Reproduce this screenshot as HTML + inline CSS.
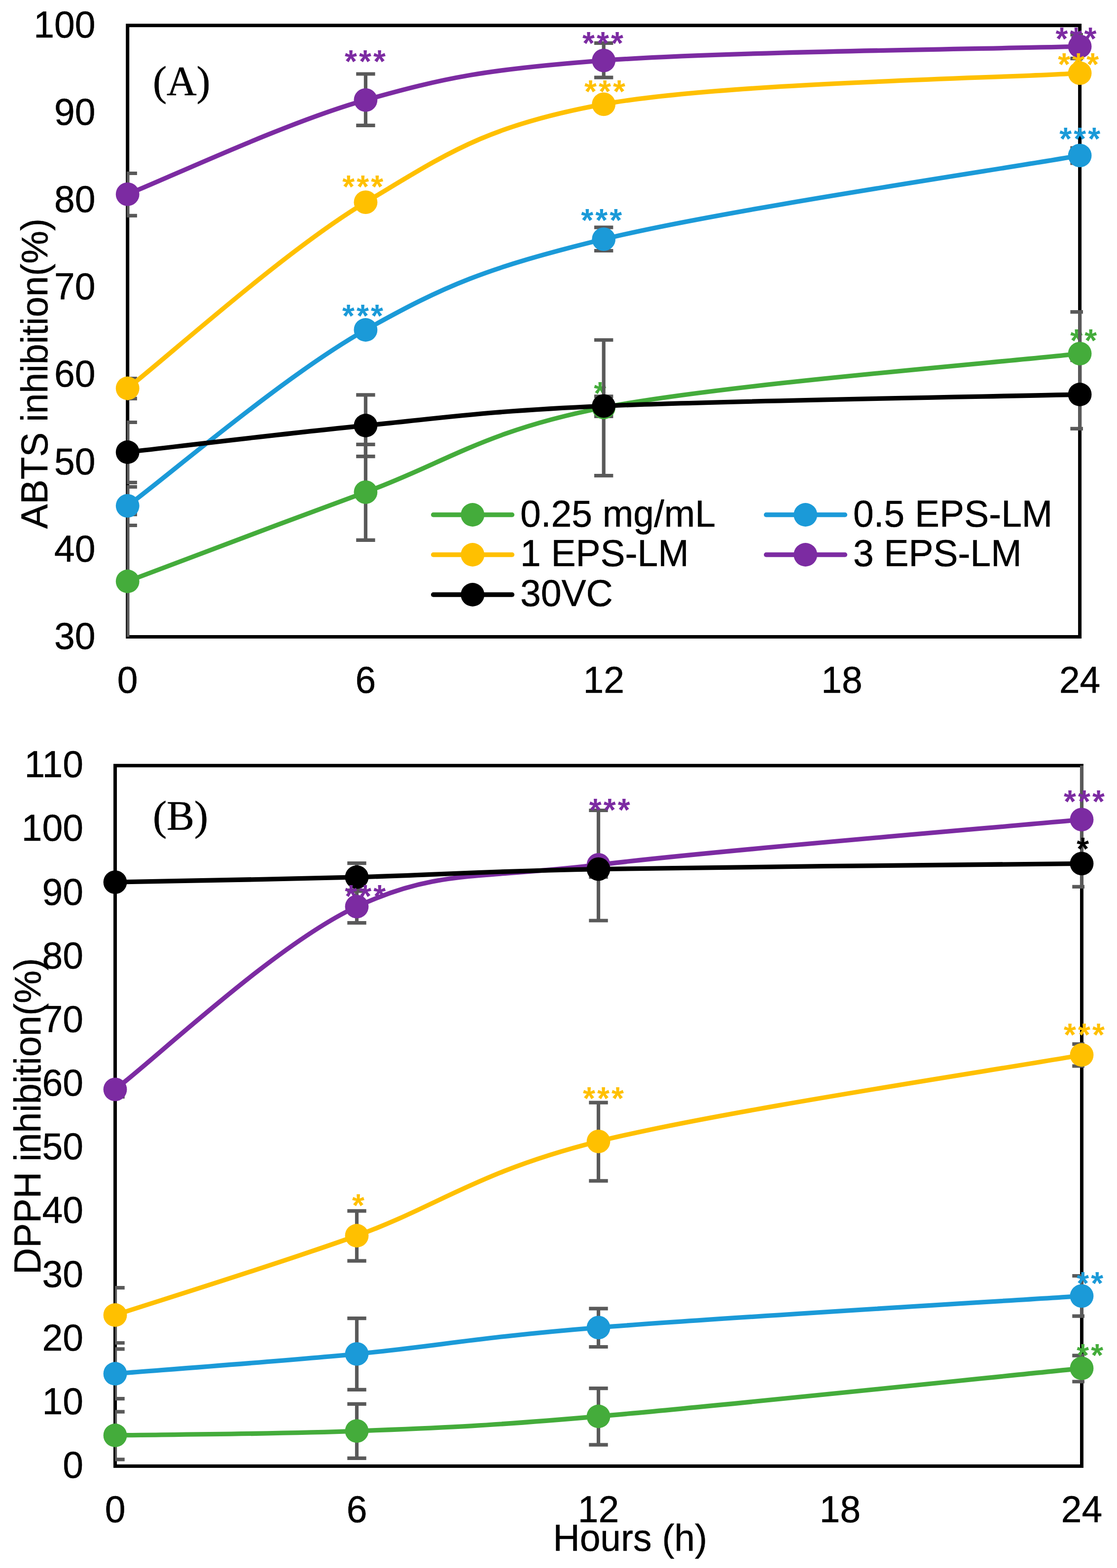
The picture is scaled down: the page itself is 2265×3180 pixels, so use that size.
<!DOCTYPE html>
<html lang="en"><head><meta charset="utf-8"><title>ABTS and DPPH inhibition</title>
<style>
html,body{margin:0;padding:0;background:#fff;}
body{width:2265px;height:3180px;overflow:hidden;}
svg{display:block;}
text{font-family:"Liberation Sans", Arial, Helvetica, sans-serif;font-size:75px;fill:#000;stroke:#000;stroke-width:0.5;stroke-linejoin:round;}
.plot{fill:none;stroke:#000;stroke-width:7;}
.yt text{text-anchor:end;}
.xt text{text-anchor:middle;}
text.st{font-size:64px;font-weight:bold;letter-spacing:4.1px;stroke:none;}
.eb{fill:none;stroke:#595959;stroke-width:7.2;}
.ln{fill:none;stroke-width:9.3;stroke-linecap:round;stroke-linejoin:round;}
text.lab{font-family:"Liberation Serif", "Times New Roman", Times, serif;font-size:84px;stroke-width:0.6;}
.leg line{stroke-width:9.3;stroke-linecap:round;}
</style></head><body>
<svg width="2265" height="3180" viewBox="0 0 2265 3180">
<rect width="2265" height="3180" fill="#fff"/>
<g id="chartA">
<clipPath id="clipA"><rect x="257.1" y="51.6" width="1938.9" height="1239.9"/></clipPath>
<rect class="plot" x="258.7" y="51.6" width="1930.9" height="1239.9"/>
<g class="yt">
<text transform="translate(193.5,75.9) scale(1,1.02)">100</text>
<text transform="translate(193.5,253.03) scale(1,1.02)">90</text>
<text transform="translate(193.5,430.16) scale(1,1.02)">80</text>
<text transform="translate(193.5,607.29) scale(1,1.02)">70</text>
<text transform="translate(193.5,784.41) scale(1,1.02)">60</text>
<text transform="translate(193.5,961.54) scale(1,1.02)">50</text>
<text transform="translate(193.5,1138.67) scale(1,1.02)">40</text>
<text transform="translate(193.5,1315.8) scale(1,1.02)">30</text>
</g>
<g class="xt">
<text transform="translate(258.7,1405) scale(1,1.02)">0</text>
<text transform="translate(741.42,1405) scale(1,1.02)">6</text>
<text transform="translate(1224.15,1405) scale(1,1.02)">12</text>
<text transform="translate(1706.88,1405) scale(1,1.02)">18</text>
<text transform="translate(2189.6,1405) scale(1,1.02)">24</text>
</g>
<g class="stars">
<text class="st" x="1204.2" y="820.1" style="fill:#44AC3B">*</text>
<text class="st" x="2170.3" y="713.2" style="fill:#44AC3B">**</text>
</g>
<g class="errorbars" clip-path="url(#clipA)">
<path class="eb" d="M258.7,1043.3 V1315 M239.5,1043.3 H277.9 M239.5,1315 H277.9 M741.42,901.3 V1095.4 M722.22,901.3 H760.62 M722.22,1095.4 H760.62 M1224.15,689.5 V964.7 M1204.95,689.5 H1243.35 M1204.95,964.7 H1243.35 M2189.6,632.6 V801.6 M2170.4,632.6 H2208.8 M2170.4,801.6 H2208.8"/>
<path class="eb" d="M258.7,987.3 V1065.5 M239.5,987.3 H277.9 M239.5,1065.5 H277.9 M1224.15,461.2 V508.5 M1204.95,461.2 H1243.35 M1204.95,508.5 H1243.35 M2189.6,300 V331 M2170.4,300 H2208.8 M2170.4,331 H2208.8"/>
<path class="eb" d="M258.7,767.5 V808.4 M239.5,767.5 H277.9 M239.5,808.4 H277.9"/>
<path class="eb" d="M258.7,351.5 V437.4 M239.5,351.5 H277.9 M239.5,437.4 H277.9 M741.42,150 V254.4 M722.22,150 H760.62 M722.22,254.4 H760.62 M1224.15,87.3 V157.1 M1204.95,87.3 H1243.35 M1204.95,157.1 H1243.35 M2189.6,70.5 V118.7 M2170.4,70.5 H2208.8 M2170.4,118.7 H2208.8"/>
<path class="eb" d="M258.7,856.5 V978.5 M239.5,856.5 H277.9 M239.5,978.5 H277.9 M741.42,800.8 V925.6 M722.22,800.8 H760.62 M722.22,925.6 H760.62 M1224.15,803.9 V844.3 M1204.95,803.9 H1243.35 M1204.95,844.3 H1243.35 M2189.6,730.7 V869.3 M2170.4,730.7 H2208.8 M2170.4,869.3 H2208.8"/>
</g>
<g class="series s-green">
<path class="ln" stroke="#44AC3B" d="M258.7,1179 C339.15,1148.85 580.52,1056.85 741.42,998.1 C902.33,939.35 982.79,873.33 1224.15,826.5 C1465.51,779.67 2028.69,735.33 2189.6,717.1"/>
<circle cx="258.7" cy="1179" r="23.9" fill="#44AC3B"/>
<circle cx="741.42" cy="998.1" r="23.9" fill="#44AC3B"/>
<circle cx="1224.15" cy="826.5" r="23.9" fill="#44AC3B"/>
<circle cx="2189.6" cy="717.1" r="23.9" fill="#44AC3B"/>
</g>
<g class="series s-blue">
<path class="ln" stroke="#1B9AD8" d="M258.7,1025.8 C339.15,966.33 580.52,759.12 741.42,669 C902.33,578.88 982.79,544.03 1224.15,485.1 C1465.51,426.17 2028.69,343.68 2189.6,315.4"/>
<circle cx="258.7" cy="1025.8" r="23.9" fill="#1B9AD8"/>
<circle cx="741.42" cy="669" r="23.9" fill="#1B9AD8"/>
<circle cx="1224.15" cy="485.1" r="23.9" fill="#1B9AD8"/>
<circle cx="2189.6" cy="315.4" r="23.9" fill="#1B9AD8"/>
</g>
<g class="series s-yellow">
<path class="ln" stroke="#FFC000" d="M258.7,787.5 C339.15,724.62 580.52,506.23 741.42,410.2 C902.33,314.17 982.79,254.95 1224.15,211.3 C1465.51,167.65 2028.69,158.8 2189.6,148.3"/>
<circle cx="258.7" cy="787.5" r="23.9" fill="#FFC000"/>
<circle cx="741.42" cy="410.2" r="23.9" fill="#FFC000"/>
<circle cx="1224.15" cy="211.3" r="23.9" fill="#FFC000"/>
<circle cx="2189.6" cy="148.3" r="23.9" fill="#FFC000"/>
</g>
<g class="series s-purple">
<path class="ln" stroke="#7C2BA2" d="M258.7,393.9 C339.15,362.05 580.52,248.02 741.42,202.8 C902.33,157.58 982.79,140.7 1224.15,122.6 C1465.51,104.5 2028.69,98.93 2189.6,94.2"/>
<circle cx="258.7" cy="393.9" r="23.9" fill="#7C2BA2"/>
<circle cx="741.42" cy="202.8" r="23.9" fill="#7C2BA2"/>
<circle cx="1224.15" cy="122.6" r="23.9" fill="#7C2BA2"/>
<circle cx="2189.6" cy="94.2" r="23.9" fill="#7C2BA2"/>
</g>
<g class="series s-black">
<path class="ln" stroke="#000000" d="M258.7,917 C339.15,908 580.52,878.62 741.42,863 C902.33,847.38 982.79,833.8 1224.15,823.3 C1465.51,812.8 2028.69,803.88 2189.6,800"/>
<circle cx="258.7" cy="917" r="23.9" fill="#000000"/>
<circle cx="741.42" cy="863" r="23.9" fill="#000000"/>
<circle cx="1224.15" cy="823.3" r="23.9" fill="#000000"/>
<circle cx="2189.6" cy="800" r="23.9" fill="#000000"/>
</g>
<g class="stars">
<text class="st" x="699.1" y="147.1" style="fill:#7C2BA2">***</text>
<text class="st" x="1181.1" y="110.1" style="fill:#7C2BA2">***</text>
<text class="st" x="2140.5" y="101" style="fill:#7C2BA2">***</text>
<text class="st" x="694.3" y="401.2" style="fill:#FFC000">***</text>
<text class="st" x="1185.1" y="208.2" style="fill:#FFC000">***</text>
<text class="st" x="2145.2" y="153" style="fill:#FFC000">***</text>
<text class="st" x="694" y="663" style="fill:#1B9AD8">***</text>
<text class="st" x="1178.2" y="469.2" style="fill:#1B9AD8">***</text>
<text class="st" x="2148.3" y="303.8" style="fill:#1B9AD8">***</text>
</g>
</g>
<text class="lab" transform="translate(310,193) scale(1,1.02)">(A)</text>
<text transform="translate(95.8,1072.5) rotate(-90) scale(1,1.02)">ABTS inhibition(%)</text>
<g class="leg">
<line x1="878.5" y1="1044" x2="1038.5" y2="1044" stroke="#44AC3B"/>
<circle cx="958.3" cy="1044" r="23.9" fill="#44AC3B"/>
<text transform="translate(1055,1068) scale(1,1.02)">0.25 mg/mL</text>
<line x1="1553.5" y1="1044" x2="1713.5" y2="1044" stroke="#1B9AD8"/>
<circle cx="1633.3" cy="1044" r="23.9" fill="#1B9AD8"/>
<text transform="translate(1730,1068) scale(1,1.02)">0.5 EPS-LM</text>
<line x1="878.5" y1="1125" x2="1038.5" y2="1125" stroke="#FFC000"/>
<circle cx="958.3" cy="1125" r="23.9" fill="#FFC000"/>
<text transform="translate(1055,1148.2) scale(1,1.02)">1 EPS-LM</text>
<line x1="1553.5" y1="1125" x2="1713.5" y2="1125" stroke="#7C2BA2"/>
<circle cx="1633.3" cy="1125" r="23.9" fill="#7C2BA2"/>
<text transform="translate(1730,1148.2) scale(1,1.02)">3 EPS-LM</text>
<line x1="878.5" y1="1206" x2="1038.5" y2="1206" stroke="#000000"/>
<circle cx="958.3" cy="1206" r="23.9" fill="#000000"/>
<text transform="translate(1055,1229) scale(1,1.02)">30VC</text>
</g>
<g id="chartB">
<clipPath id="clipB"><rect x="233.2" y="1552.7" width="1965.8" height="1420.7"/></clipPath>
<rect class="plot" x="233.5" y="1552.7" width="1960" height="1420.7"/>
<g class="yt">
<text transform="translate(169,1576.3) scale(1,1.02)">110</text>
<text transform="translate(169,1705.45) scale(1,1.02)">100</text>
<text transform="translate(169,1834.61) scale(1,1.02)">90</text>
<text transform="translate(169,1963.76) scale(1,1.02)">80</text>
<text transform="translate(169,2092.92) scale(1,1.02)">70</text>
<text transform="translate(169,2222.07) scale(1,1.02)">60</text>
<text transform="translate(169,2351.23) scale(1,1.02)">50</text>
<text transform="translate(169,2480.38) scale(1,1.02)">40</text>
<text transform="translate(169,2609.54) scale(1,1.02)">30</text>
<text transform="translate(169,2738.69) scale(1,1.02)">20</text>
<text transform="translate(169,2867.85) scale(1,1.02)">10</text>
<text transform="translate(169,2997) scale(1,1.02)">0</text>
</g>
<g class="xt">
<text transform="translate(233.5,3087) scale(1,1.02)">0</text>
<text transform="translate(723.5,3087) scale(1,1.02)">6</text>
<text transform="translate(1213.5,3087) scale(1,1.02)">12</text>
<text transform="translate(1703.5,3087) scale(1,1.02)">18</text>
<text transform="translate(2193.5,3087) scale(1,1.02)">24</text>
</g>
<g class="errorbars" clip-path="url(#clipB)">
<path class="eb" d="M233.5,2863.1 V2959.9 M214.3,2863.1 H252.7 M214.3,2959.9 H252.7 M723.5,2847.4 V2957.4 M704.3,2847.4 H742.7 M704.3,2957.4 H742.7 M1213.5,2815.6 V2930.2 M1194.3,2815.6 H1232.7 M1194.3,2930.2 H1232.7 M2193.5,2749.1 V2802 M2174.3,2749.1 H2212.7 M2174.3,2802 H2212.7"/>
<path class="eb" d="M233.5,2735.9 V2836.6 M214.3,2735.9 H252.7 M214.3,2836.6 H252.7 M723.5,2673.7 V2818.4 M704.3,2673.7 H742.7 M704.3,2818.4 H742.7 M1213.5,2653.9 V2731.5 M1194.3,2653.9 H1232.7 M1194.3,2731.5 H1232.7 M2193.5,2587.5 V2669.1 M2174.3,2587.5 H2212.7 M2174.3,2669.1 H2212.7"/>
<path class="eb" d="M233.5,2611.6 V2723.5 M214.3,2611.6 H252.7 M214.3,2723.5 H252.7 M723.5,2455.8 V2557.1 M704.3,2455.8 H742.7 M704.3,2557.1 H742.7 M1213.5,2236.2 V2394.9 M1194.3,2236.2 H1232.7 M1194.3,2394.9 H1232.7 M2193.5,2117.4 V2162 M2174.3,2117.4 H2212.7 M2174.3,2162 H2212.7"/>
<path class="eb" d="M233.5,2194.3 V2224.3 M214.3,2194.3 H252.7 M214.3,2224.3 H252.7 M723.5,1805.5 V1871.7 M704.3,1805.5 H742.7 M704.3,1871.7 H742.7 M1213.5,1643.5 V1867 M1194.3,1643.5 H1232.7 M1194.3,1867 H1232.7 M2193.5,1526 V1798.4 M2174.3,1526 H2212.7 M2174.3,1798.4 H2212.7"/>
<path class="eb" d="M723.5,1750.6 V1807.2 M704.3,1750.6 H742.7 M704.3,1807.2 H742.7 M1213.5,1746.7 V1778.6 M1194.3,1746.7 H1232.7 M1194.3,1778.6 H1232.7"/>
</g>
<g class="series s-green">
<path class="ln" stroke="#44AC3B" d="M233.5,2911 C315.17,2909.53 560.17,2908.62 723.5,2902.2 C886.83,2895.78 968.96,2893.66 1213.5,2872.5 C1458.5,2851.3 2030.17,2791.25 2193.5,2775"/>
<circle cx="233.5" cy="2911" r="23.9" fill="#44AC3B"/>
<circle cx="723.5" cy="2902.2" r="23.9" fill="#44AC3B"/>
<circle cx="1213.5" cy="2872.5" r="23.9" fill="#44AC3B"/>
<circle cx="2193.5" cy="2775" r="23.9" fill="#44AC3B"/>
</g>
<g class="series s-blue">
<path class="ln" stroke="#1B9AD8" d="M233.5,2786 C315.17,2779.3 560.17,2761.42 723.5,2745.8 C886.83,2730.18 968.5,2711.88 1213.5,2692.3 C1458.5,2672.72 2030.17,2638.97 2193.5,2628.3"/>
<circle cx="233.5" cy="2786" r="23.9" fill="#1B9AD8"/>
<circle cx="723.5" cy="2745.8" r="23.9" fill="#1B9AD8"/>
<circle cx="1213.5" cy="2692.3" r="23.9" fill="#1B9AD8"/>
<circle cx="2193.5" cy="2628.3" r="23.9" fill="#1B9AD8"/>
</g>
<g class="series s-yellow">
<path class="ln" stroke="#FFC000" d="M233.5,2667 C315.17,2640.17 560.17,2564.7 723.5,2506 C886.83,2447.3 968.5,2375.88 1213.5,2314.8 C1458.5,2253.72 2030.17,2168.72 2193.5,2139.5"/>
<circle cx="233.5" cy="2667" r="23.9" fill="#FFC000"/>
<circle cx="723.5" cy="2506" r="23.9" fill="#FFC000"/>
<circle cx="1213.5" cy="2314.8" r="23.9" fill="#FFC000"/>
<circle cx="2193.5" cy="2139.5" r="23.9" fill="#FFC000"/>
</g>
<g class="series s-purple">
<path class="ln" stroke="#7C2BA2" d="M233.5,2209.3 C315.17,2147.52 560.17,1914.5 723.5,1838.6 C886.83,1762.7 968.5,1783.3 1213.5,1753.9 C1458.5,1724.5 2030.17,1677.48 2193.5,1662.2"/>
<circle cx="233.5" cy="2209.3" r="23.9" fill="#7C2BA2"/>
<circle cx="723.5" cy="1838.6" r="23.9" fill="#7C2BA2"/>
<circle cx="1213.5" cy="1753.9" r="23.9" fill="#7C2BA2"/>
<circle cx="2193.5" cy="1662.2" r="23.9" fill="#7C2BA2"/>
</g>
<g class="series s-black">
<path class="ln" stroke="#000000" d="M233.5,1789.1 C315.17,1787.4 560.17,1783.3 723.5,1778.9 C886.83,1774.5 968.5,1767.28 1213.5,1762.7 C1458.5,1758.12 2030.17,1753.28 2193.5,1751.4"/>
<circle cx="233.5" cy="1789.1" r="23.9" fill="#000000"/>
<circle cx="723.5" cy="1778.9" r="23.9" fill="#000000"/>
<circle cx="1213.5" cy="1762.7" r="23.9" fill="#000000"/>
<circle cx="2193.5" cy="1751.4" r="23.9" fill="#000000"/>
</g>
<g class="stars">
<text class="st" x="699.3" y="1840.1" style="fill:#7C2BA2">***</text>
<text class="st" x="1194.7" y="1665.3" style="fill:#7C2BA2">***</text>
<text class="st" x="2157.1" y="1648" style="fill:#7C2BA2">***</text>
<text class="st" x="713.9" y="2467.4" style="fill:#FFC000">*</text>
<text class="st" x="1182.1" y="2250.1" style="fill:#FFC000">***</text>
<text class="st" x="2157.1" y="2120.9" style="fill:#FFC000">***</text>
<text class="st" x="2183.3" y="2625.1" style="fill:#1B9AD8">**</text>
<text class="st" x="2183.3" y="2771.4" style="fill:#44AC3B">**</text>
<text class="st" x="2183.2" y="1744.3" style="fill:#000000">*</text>
</g>
</g>
<text class="lab" transform="translate(310,1683) scale(1,1.02)">(B)</text>
<text transform="translate(81.6,2585) rotate(-90) scale(1,1.02)">DPPH inhibition(%)</text>
<text transform="translate(1121.5,3145) scale(1,1.02)">Hours (h)</text>
</svg></body></html>
